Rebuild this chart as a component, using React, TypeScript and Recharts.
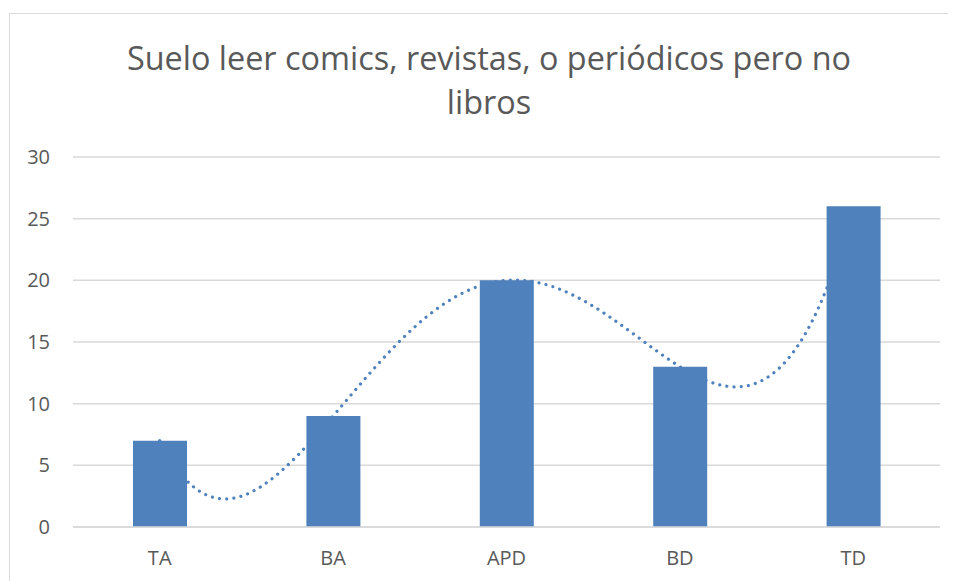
import React from "react";
import { ComposedChart, Bar, Line, XAxis, YAxis, CartesianGrid } from "recharts";

const categories = ["TA", "BA", "APD", "BD", "TD"];
const values = [7, 9, 20, 13, 26];
const yTicks = [0, 5, 10, 15, 20, 25, 30];
const titleLines = ["Suelo leer comics, revistas, o periódicos pero no", "libros"];

const data = categories.map((c, i) => ({ cat: c, value: values[i] }));

// Polynomial trendline (order = n-1) through the scaled points, like Excel's polynomial trendline
const polyCurve: any = (context: any) => {
  let pts: [number, number][] = [];
  return {
    areaStart() {},
    areaEnd() {},
    lineStart() {
      pts = [];
    },
    point(x: number, y: number) {
      pts.push([+x, +y]);
    },
    lineEnd() {
      const n = pts.length;
      if (!n) return;
      const x0 = pts[0][0];
      const x1 = pts[n - 1][0];
      const steps = 600;
      for (let s = 0; s <= steps; s++) {
        const x = x0 + ((x1 - x0) * s) / steps;
        let y = 0;
        for (let i = 0; i < n; i++) {
          let L = 1;
          for (let j = 0; j < n; j++) {
            if (j !== i) L *= (x - pts[j][0]) / (pts[i][0] - pts[j][0]);
          }
          y += L * pts[i][1];
        }
        if (s === 0) context.moveTo(x, y);
        else context.lineTo(x, y);
      }
    },
  };
};

const FONT = "'Open Sans', 'Noto Sans', sans-serif";
const TXT = "#595959";
const BLUE = "#4F81BD";

export default function App() {
  return (
    <div style={{ position: "relative", width: 948, height: 573, overflow: "hidden", background: "#fff" }}>
      <div
        style={{
          position: "absolute",
          left: 1,
          top: 5,
          width: 1200,
          height: 1200,
          border: "1.5px solid #d9d9d9",
          boxSizing: "border-box",
        }}
      />
      <svg style={{ position: "absolute", left: 0, top: 0 }} width={948} height={130}>
        {titleLines.map((t, i) => (
          <text
            key={i}
            x={481}
            y={i === 0 ? 61.5 : 106}
            textAnchor="middle"
            fontFamily={FONT}
            fontSize={32.4}
            fill={TXT}
          >
            {t}
          </text>
        ))}
      </svg>
      <div style={{ position: "absolute", left: 0, top: 0 }}>
        <ComposedChart
          width={948}
          height={573}
          data={data}
          margin={{ top: 149, right: 16, bottom: 24, left: 0 }}
        >
          <CartesianGrid vertical={false} stroke="#d9d9d9" strokeWidth={1.5} />
          <XAxis
            dataKey="cat"
            height={30}
            tickSize={0}
            tickMargin={24}
            axisLine={{ stroke: "#d9d9d9", strokeWidth: 1.5 }}
            tickLine={false}
            tick={{ fill: TXT, fontSize: 20, fontFamily: FONT }}
          />
          <YAxis
            width={65}
            domain={[0, 30]}
            ticks={yTicks}
            interval={0}
            tickSize={0}
            tickMargin={23}
            axisLine={false}
            tickLine={false}
            tick={{ fill: TXT, fontSize: 20, fontFamily: FONT }}
          />
          <Line
            dataKey="value"
            type={polyCurve}
            stroke={BLUE}
            strokeWidth={3.2}
            strokeDasharray="0.01 7.2"
            strokeLinecap="round"
            dot={false}
            activeDot={false}
            isAnimationActive={false}
            zIndex={100}
          />
          <Bar dataKey="value" fill={BLUE} barSize={54} isAnimationActive={false} zIndex={300} />
        </ComposedChart>
      </div>
    </div>
  );
}
